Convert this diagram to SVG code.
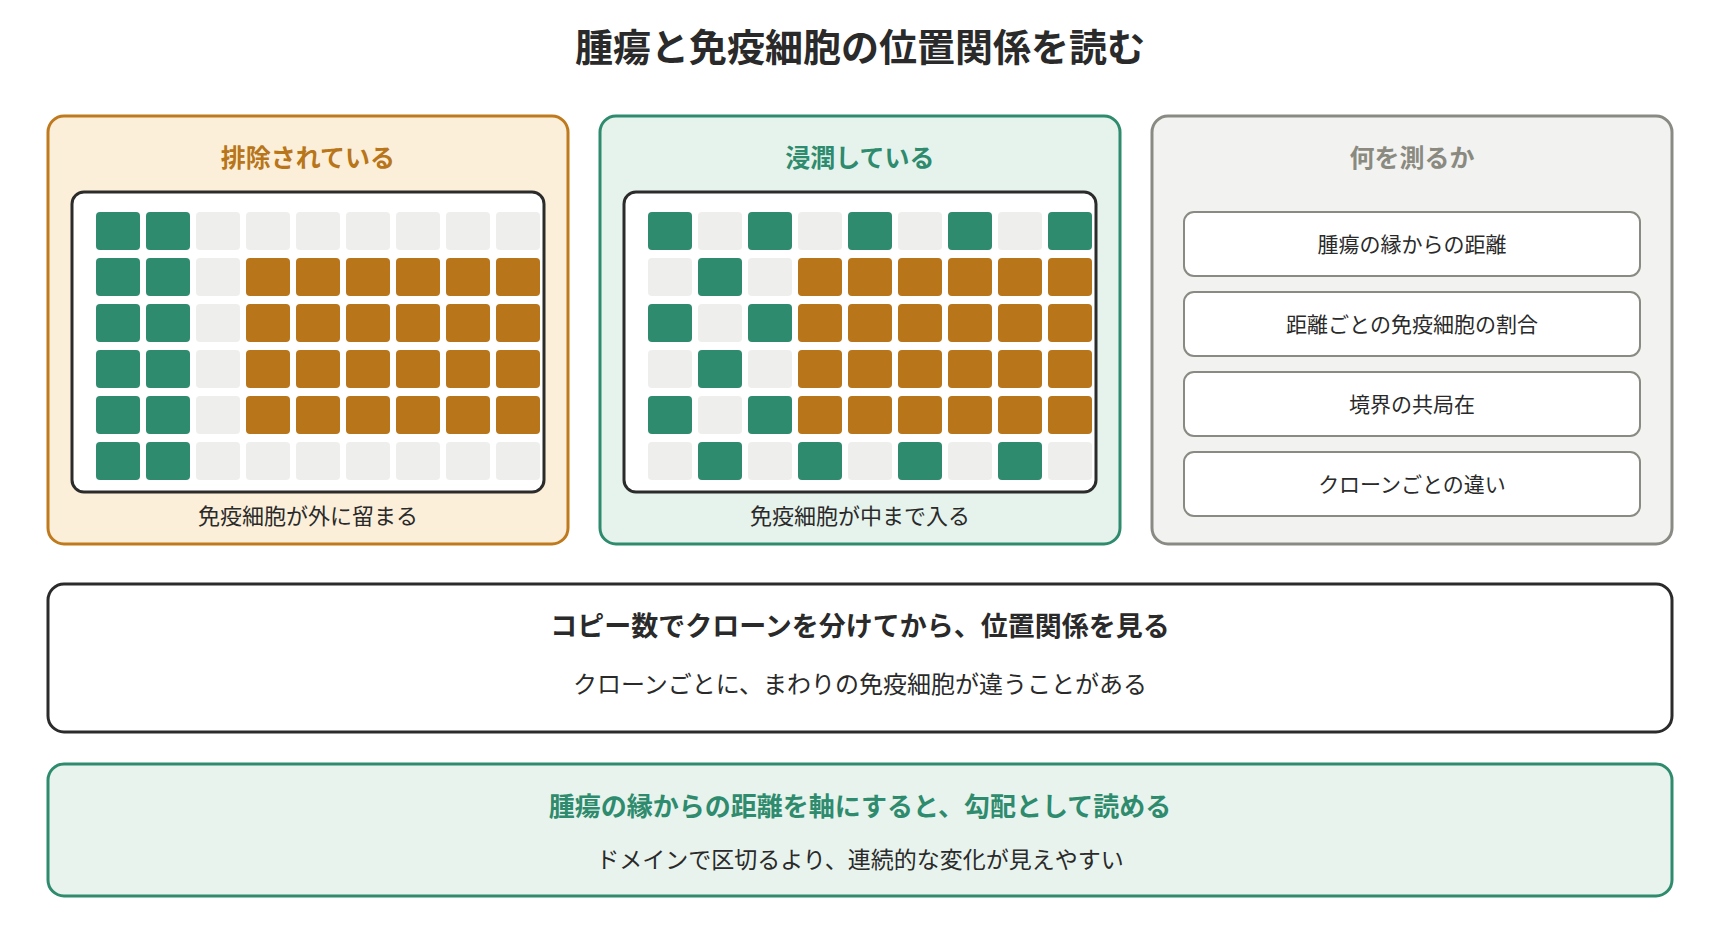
<svg xmlns="http://www.w3.org/2000/svg" width="1720" height="940" viewBox="0 0 1720 940">
<style>
text{font-family:"Noto Sans CJK JP","Noto Sans",sans-serif;text-anchor:middle;dominant-baseline:central;fill:#2a2a2a}
.h1{font-size:38px;font-weight:700}
.ct{font-size:25px;font-weight:700}
.cap{font-size:22px}
.bt{font-size:21px}
.pt{font-size:27px;font-weight:700}
.pt2{font-size:26px;font-weight:700}
.ps{font-size:24px}
.ps2{font-size:23px}
.g{fill:#2E8B6E}
.o{fill:#B87519}
.e{fill:#EEEEEC}
.inner{fill:#FFFFFF;stroke:#2B2B2B;stroke-width:3}
.mbox{fill:#FFFFFF;stroke:#8A8A84;stroke-width:2}
</style>
<rect width="1720" height="940" fill="#FFFFFF"/>
<text class="h1" x="860" y="44">腫瘍と免疫細胞の位置関係を読む</text>

<g id="card-excluded">
<rect x="48" y="116" width="520" height="428" rx="16" fill="#FCEFD9" stroke="#C07A1E" stroke-width="3"/>
<text class="ct" x="308" y="156" style="fill:#B87519">排除されている</text>
<rect class="inner" x="72" y="192" width="472" height="300" rx="12"/>
<g>
<rect class="g" x="96" y="212" width="44" height="38" rx="4"/><rect class="g" x="146" y="212" width="44" height="38" rx="4"/><rect class="e" x="196" y="212" width="44" height="38" rx="4"/><rect class="e" x="246" y="212" width="44" height="38" rx="4"/><rect class="e" x="296" y="212" width="44" height="38" rx="4"/><rect class="e" x="346" y="212" width="44" height="38" rx="4"/><rect class="e" x="396" y="212" width="44" height="38" rx="4"/><rect class="e" x="446" y="212" width="44" height="38" rx="4"/><rect class="e" x="496" y="212" width="44" height="38" rx="4"/>
<rect class="g" x="96" y="258" width="44" height="38" rx="4"/><rect class="g" x="146" y="258" width="44" height="38" rx="4"/><rect class="e" x="196" y="258" width="44" height="38" rx="4"/><rect class="o" x="246" y="258" width="44" height="38" rx="4"/><rect class="o" x="296" y="258" width="44" height="38" rx="4"/><rect class="o" x="346" y="258" width="44" height="38" rx="4"/><rect class="o" x="396" y="258" width="44" height="38" rx="4"/><rect class="o" x="446" y="258" width="44" height="38" rx="4"/><rect class="o" x="496" y="258" width="44" height="38" rx="4"/>
<rect class="g" x="96" y="304" width="44" height="38" rx="4"/><rect class="g" x="146" y="304" width="44" height="38" rx="4"/><rect class="e" x="196" y="304" width="44" height="38" rx="4"/><rect class="o" x="246" y="304" width="44" height="38" rx="4"/><rect class="o" x="296" y="304" width="44" height="38" rx="4"/><rect class="o" x="346" y="304" width="44" height="38" rx="4"/><rect class="o" x="396" y="304" width="44" height="38" rx="4"/><rect class="o" x="446" y="304" width="44" height="38" rx="4"/><rect class="o" x="496" y="304" width="44" height="38" rx="4"/>
<rect class="g" x="96" y="350" width="44" height="38" rx="4"/><rect class="g" x="146" y="350" width="44" height="38" rx="4"/><rect class="e" x="196" y="350" width="44" height="38" rx="4"/><rect class="o" x="246" y="350" width="44" height="38" rx="4"/><rect class="o" x="296" y="350" width="44" height="38" rx="4"/><rect class="o" x="346" y="350" width="44" height="38" rx="4"/><rect class="o" x="396" y="350" width="44" height="38" rx="4"/><rect class="o" x="446" y="350" width="44" height="38" rx="4"/><rect class="o" x="496" y="350" width="44" height="38" rx="4"/>
<rect class="g" x="96" y="396" width="44" height="38" rx="4"/><rect class="g" x="146" y="396" width="44" height="38" rx="4"/><rect class="e" x="196" y="396" width="44" height="38" rx="4"/><rect class="o" x="246" y="396" width="44" height="38" rx="4"/><rect class="o" x="296" y="396" width="44" height="38" rx="4"/><rect class="o" x="346" y="396" width="44" height="38" rx="4"/><rect class="o" x="396" y="396" width="44" height="38" rx="4"/><rect class="o" x="446" y="396" width="44" height="38" rx="4"/><rect class="o" x="496" y="396" width="44" height="38" rx="4"/>
<rect class="g" x="96" y="442" width="44" height="38" rx="4"/><rect class="g" x="146" y="442" width="44" height="38" rx="4"/><rect class="e" x="196" y="442" width="44" height="38" rx="4"/><rect class="e" x="246" y="442" width="44" height="38" rx="4"/><rect class="e" x="296" y="442" width="44" height="38" rx="4"/><rect class="e" x="346" y="442" width="44" height="38" rx="4"/><rect class="e" x="396" y="442" width="44" height="38" rx="4"/><rect class="e" x="446" y="442" width="44" height="38" rx="4"/><rect class="e" x="496" y="442" width="44" height="38" rx="4"/>
</g>
<text class="cap" x="308" y="514">免疫細胞が外に留まる</text>
</g>

<g id="card-infiltrated">
<rect x="600" y="116" width="520" height="428" rx="16" fill="#E6F3EC" stroke="#2E8B6E" stroke-width="3"/>
<text class="ct" x="860" y="156" style="fill:#2E8B6E">浸潤している</text>
<rect class="inner" x="624" y="192" width="472" height="300" rx="12"/>
<g>
<rect class="g" x="648" y="212" width="44" height="38" rx="4"/><rect class="e" x="698" y="212" width="44" height="38" rx="4"/><rect class="g" x="748" y="212" width="44" height="38" rx="4"/><rect class="e" x="798" y="212" width="44" height="38" rx="4"/><rect class="g" x="848" y="212" width="44" height="38" rx="4"/><rect class="e" x="898" y="212" width="44" height="38" rx="4"/><rect class="g" x="948" y="212" width="44" height="38" rx="4"/><rect class="e" x="998" y="212" width="44" height="38" rx="4"/><rect class="g" x="1048" y="212" width="44" height="38" rx="4"/>
<rect class="e" x="648" y="258" width="44" height="38" rx="4"/><rect class="g" x="698" y="258" width="44" height="38" rx="4"/><rect class="e" x="748" y="258" width="44" height="38" rx="4"/><rect class="o" x="798" y="258" width="44" height="38" rx="4"/><rect class="o" x="848" y="258" width="44" height="38" rx="4"/><rect class="o" x="898" y="258" width="44" height="38" rx="4"/><rect class="o" x="948" y="258" width="44" height="38" rx="4"/><rect class="o" x="998" y="258" width="44" height="38" rx="4"/><rect class="o" x="1048" y="258" width="44" height="38" rx="4"/>
<rect class="g" x="648" y="304" width="44" height="38" rx="4"/><rect class="e" x="698" y="304" width="44" height="38" rx="4"/><rect class="g" x="748" y="304" width="44" height="38" rx="4"/><rect class="o" x="798" y="304" width="44" height="38" rx="4"/><rect class="o" x="848" y="304" width="44" height="38" rx="4"/><rect class="o" x="898" y="304" width="44" height="38" rx="4"/><rect class="o" x="948" y="304" width="44" height="38" rx="4"/><rect class="o" x="998" y="304" width="44" height="38" rx="4"/><rect class="o" x="1048" y="304" width="44" height="38" rx="4"/>
<rect class="e" x="648" y="350" width="44" height="38" rx="4"/><rect class="g" x="698" y="350" width="44" height="38" rx="4"/><rect class="e" x="748" y="350" width="44" height="38" rx="4"/><rect class="o" x="798" y="350" width="44" height="38" rx="4"/><rect class="o" x="848" y="350" width="44" height="38" rx="4"/><rect class="o" x="898" y="350" width="44" height="38" rx="4"/><rect class="o" x="948" y="350" width="44" height="38" rx="4"/><rect class="o" x="998" y="350" width="44" height="38" rx="4"/><rect class="o" x="1048" y="350" width="44" height="38" rx="4"/>
<rect class="g" x="648" y="396" width="44" height="38" rx="4"/><rect class="e" x="698" y="396" width="44" height="38" rx="4"/><rect class="g" x="748" y="396" width="44" height="38" rx="4"/><rect class="o" x="798" y="396" width="44" height="38" rx="4"/><rect class="o" x="848" y="396" width="44" height="38" rx="4"/><rect class="o" x="898" y="396" width="44" height="38" rx="4"/><rect class="o" x="948" y="396" width="44" height="38" rx="4"/><rect class="o" x="998" y="396" width="44" height="38" rx="4"/><rect class="o" x="1048" y="396" width="44" height="38" rx="4"/>
<rect class="e" x="648" y="442" width="44" height="38" rx="4"/><rect class="g" x="698" y="442" width="44" height="38" rx="4"/><rect class="e" x="748" y="442" width="44" height="38" rx="4"/><rect class="g" x="798" y="442" width="44" height="38" rx="4"/><rect class="e" x="848" y="442" width="44" height="38" rx="4"/><rect class="g" x="898" y="442" width="44" height="38" rx="4"/><rect class="e" x="948" y="442" width="44" height="38" rx="4"/><rect class="g" x="998" y="442" width="44" height="38" rx="4"/><rect class="e" x="1048" y="442" width="44" height="38" rx="4"/>
</g>
<text class="cap" x="860" y="514">免疫細胞が中まで入る</text>
</g>

<g id="card-measure">
<rect x="1152" y="116" width="520" height="428" rx="16" fill="#F2F2F0" stroke="#8A8A84" stroke-width="3"/>
<text class="ct" x="1412" y="156" style="fill:#8A8A80">何を測るか</text>
<g id="m1"><rect class="mbox" x="1184" y="212" width="456" height="64" rx="10"/><text class="bt" x="1412" y="243">腫瘍の縁からの距離</text></g>
<g id="m2"><rect class="mbox" x="1184" y="292" width="456" height="64" rx="10"/><text class="bt" x="1412" y="323">距離ごとの免疫細胞の割合</text></g>
<g id="m3"><rect class="mbox" x="1184" y="372" width="456" height="64" rx="10"/><text class="bt" x="1412" y="403">境界の共局在</text></g>
<g id="m4"><rect class="mbox" x="1184" y="452" width="456" height="64" rx="10"/><text class="bt" x="1412" y="483">クローンごとの違い</text></g>
</g>

<g id="panel-clone">
<rect x="48" y="584" width="1624" height="148" rx="16" fill="#FFFFFF" stroke="#2B2B2B" stroke-width="3"/>
<text class="pt" x="860" y="624">コピー数でクローンを分けてから、位置関係を見る</text>
<text class="ps" x="860" y="682">クローンごとに、まわりの免疫細胞が違うことがある</text>
</g>

<g id="panel-gradient">
<rect x="48" y="764" width="1624" height="132" rx="16" fill="#E7F3EC" stroke="#2E8B6E" stroke-width="3"/>
<text class="pt2" x="860" y="804" style="fill:#2E8B6E">腫瘍の縁からの距離を軸にすると、勾配として読める</text>
<text class="ps2" x="860" y="858">ドメインで区切るより、連続的な変化が見えやすい</text>
</g>

<g id="connectors"></g>
</svg>
